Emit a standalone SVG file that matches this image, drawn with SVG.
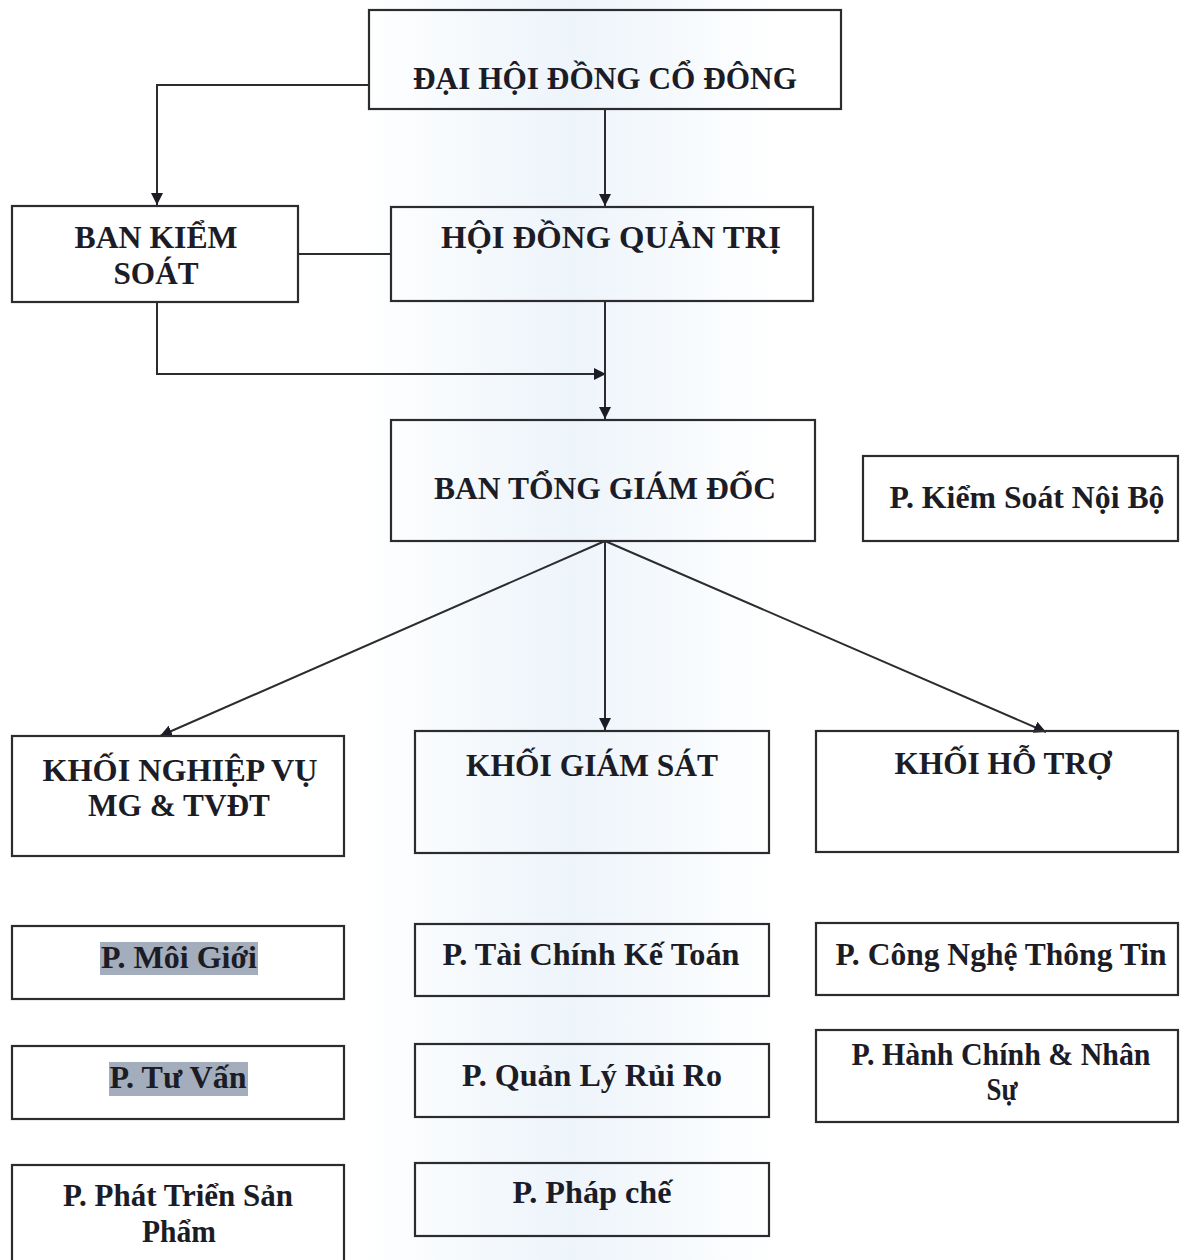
<svg xmlns="http://www.w3.org/2000/svg" width="1192" height="1260" viewBox="0 0 1192 1260">
<defs>
<style>
.box{fill:none;stroke:#2b2b30;stroke-width:2.2}
.t{font-family:"Liberation Serif","Times New Roman",serif;font-weight:bold;font-size:31px;fill:#1c1c26;text-anchor:middle}
.c{fill:none;stroke:#2b2b30;stroke-width:2}
.hl{fill:#a3adbb}
</style>
<marker id="ah" viewBox="0 0 10 10" refX="10" refY="5" markerWidth="12" markerHeight="12" markerUnits="userSpaceOnUse" orient="auto">
<path d="M0,0 L10,5 L0,10 Z" fill="#1c1c26"/>
</marker>
<linearGradient id="bg" x1="0" y1="0" x2="1" y2="0">
<stop offset="0" stop-color="#ffffff"/>
<stop offset="0.5" stop-color="#edf4fa"/>
<stop offset="1" stop-color="#ffffff"/>
</linearGradient>
</defs>
<rect width="1192" height="1260" fill="#ffffff"/>
<rect x="360" y="0" width="420" height="1260" fill="url(#bg)"/>

<g id="connectors">
<polyline class="c" points="369,85 157,85 157,205" marker-end="url(#ah)"/>
<line class="c" x1="605" y1="109" x2="605" y2="206" marker-end="url(#ah)"/>
<line class="c" x1="298" y1="254" x2="391" y2="254"/>
<polyline class="c" points="157,302 157,374 606,374" marker-end="url(#ah)"/>
<line class="c" x1="605" y1="301" x2="605" y2="419" marker-end="url(#ah)"/>
<line class="c" x1="605" y1="541" x2="160" y2="736" marker-end="url(#ah)"/>
<line class="c" x1="605" y1="541" x2="605" y2="730" marker-end="url(#ah)"/>
<line class="c" x1="605" y1="541" x2="1046" y2="732" marker-end="url(#ah)"/>
</g>

<g id="dhdcd"><rect class="box" x="369" y="10" width="472" height="99"/><text class="t" x="605" y="89" textLength="384" lengthAdjust="spacingAndGlyphs">ĐẠI HỘI ĐỒNG CỔ ĐÔNG</text></g>
<g id="bks"><rect class="box" x="12" y="206" width="286" height="96"/><text class="t" x="156" y="248" textLength="163" lengthAdjust="spacingAndGlyphs">BAN KIỂM</text><text class="t" x="156" y="284" textLength="85" lengthAdjust="spacingAndGlyphs">SOÁT</text></g>
<g id="hdqt"><rect class="box" x="391" y="207" width="422" height="94"/><text class="t" x="611" y="248" textLength="340" lengthAdjust="spacingAndGlyphs">HỘI ĐỒNG QUẢN TRỊ</text></g>
<g id="btgd"><rect class="box" x="391" y="420" width="424" height="121"/><text class="t" x="605" y="499" textLength="342" lengthAdjust="spacingAndGlyphs">BAN TỔNG GIÁM ĐỐC</text></g>
<g id="ksnb"><rect class="box" x="863" y="456" width="315" height="85"/><text class="t" x="1027" y="508" textLength="275" lengthAdjust="spacingAndGlyphs">P. Kiểm Soát Nội Bộ</text></g>

<g id="knv"><rect class="box" x="12" y="736" width="332" height="120"/><text class="t" x="180" y="781" textLength="275" lengthAdjust="spacingAndGlyphs">KHỐI NGHIỆP VỤ</text><text class="t" x="179" y="816" textLength="182" lengthAdjust="spacingAndGlyphs">MG &amp; TVĐT</text></g>
<g id="kgs"><rect class="box" x="415" y="731" width="354" height="122"/><text class="t" x="592" y="776" textLength="252" lengthAdjust="spacingAndGlyphs">KHỐI GIÁM SÁT</text></g>
<g id="kht"><rect class="box" x="816" y="731" width="362" height="121"/><text class="t" x="1003" y="774" textLength="217" lengthAdjust="spacingAndGlyphs">KHỐI HỖ TRỢ</text></g>

<g id="pmg"><rect class="box" x="12" y="926" width="332" height="73"/><rect class="hl" x="100" y="942" width="158" height="33"/><text class="t" x="179" y="968" textLength="156" lengthAdjust="spacingAndGlyphs">P. Môi Giới</text></g>
<g id="ptckt"><rect class="box" x="415" y="924" width="354" height="72"/><text class="t" x="591" y="965" textLength="297" lengthAdjust="spacingAndGlyphs">P. Tài Chính Kế Toán</text></g>
<g id="pcntt"><rect class="box" x="816" y="923" width="362" height="72"/><text class="t" x="1001" y="965" textLength="331" lengthAdjust="spacingAndGlyphs">P. Công Nghệ Thông Tin</text></g>

<g id="ptv"><rect class="box" x="12" y="1046" width="332" height="73"/><rect class="hl" x="109" y="1062" width="139" height="34"/><text class="t" x="178" y="1088" textLength="137" lengthAdjust="spacingAndGlyphs">P. Tư Vấn</text></g>
<g id="pqlrr"><rect class="box" x="415" y="1044" width="354" height="73"/><text class="t" x="592" y="1086" textLength="260" lengthAdjust="spacingAndGlyphs">P. Quản Lý Rủi Ro</text></g>
<g id="phcns"><rect class="box" x="816" y="1030" width="362" height="92"/><text class="t" x="1001" y="1065" textLength="299" lengthAdjust="spacingAndGlyphs">P. Hành Chính &amp; Nhân</text><text class="t" x="1002" y="1100" textLength="31" lengthAdjust="spacingAndGlyphs">Sự</text></g>

<g id="pptsp"><rect class="box" x="12" y="1165" width="332" height="100"/><text class="t" x="178" y="1206" textLength="230" lengthAdjust="spacingAndGlyphs">P. Phát Triển Sản</text><text class="t" x="179" y="1242" textLength="74" lengthAdjust="spacingAndGlyphs">Phẩm</text></g>
<g id="ppc"><rect class="box" x="415" y="1163" width="354" height="73"/><text class="t" x="592" y="1203" textLength="159" lengthAdjust="spacingAndGlyphs">P. Pháp chế</text></g>
</svg>
